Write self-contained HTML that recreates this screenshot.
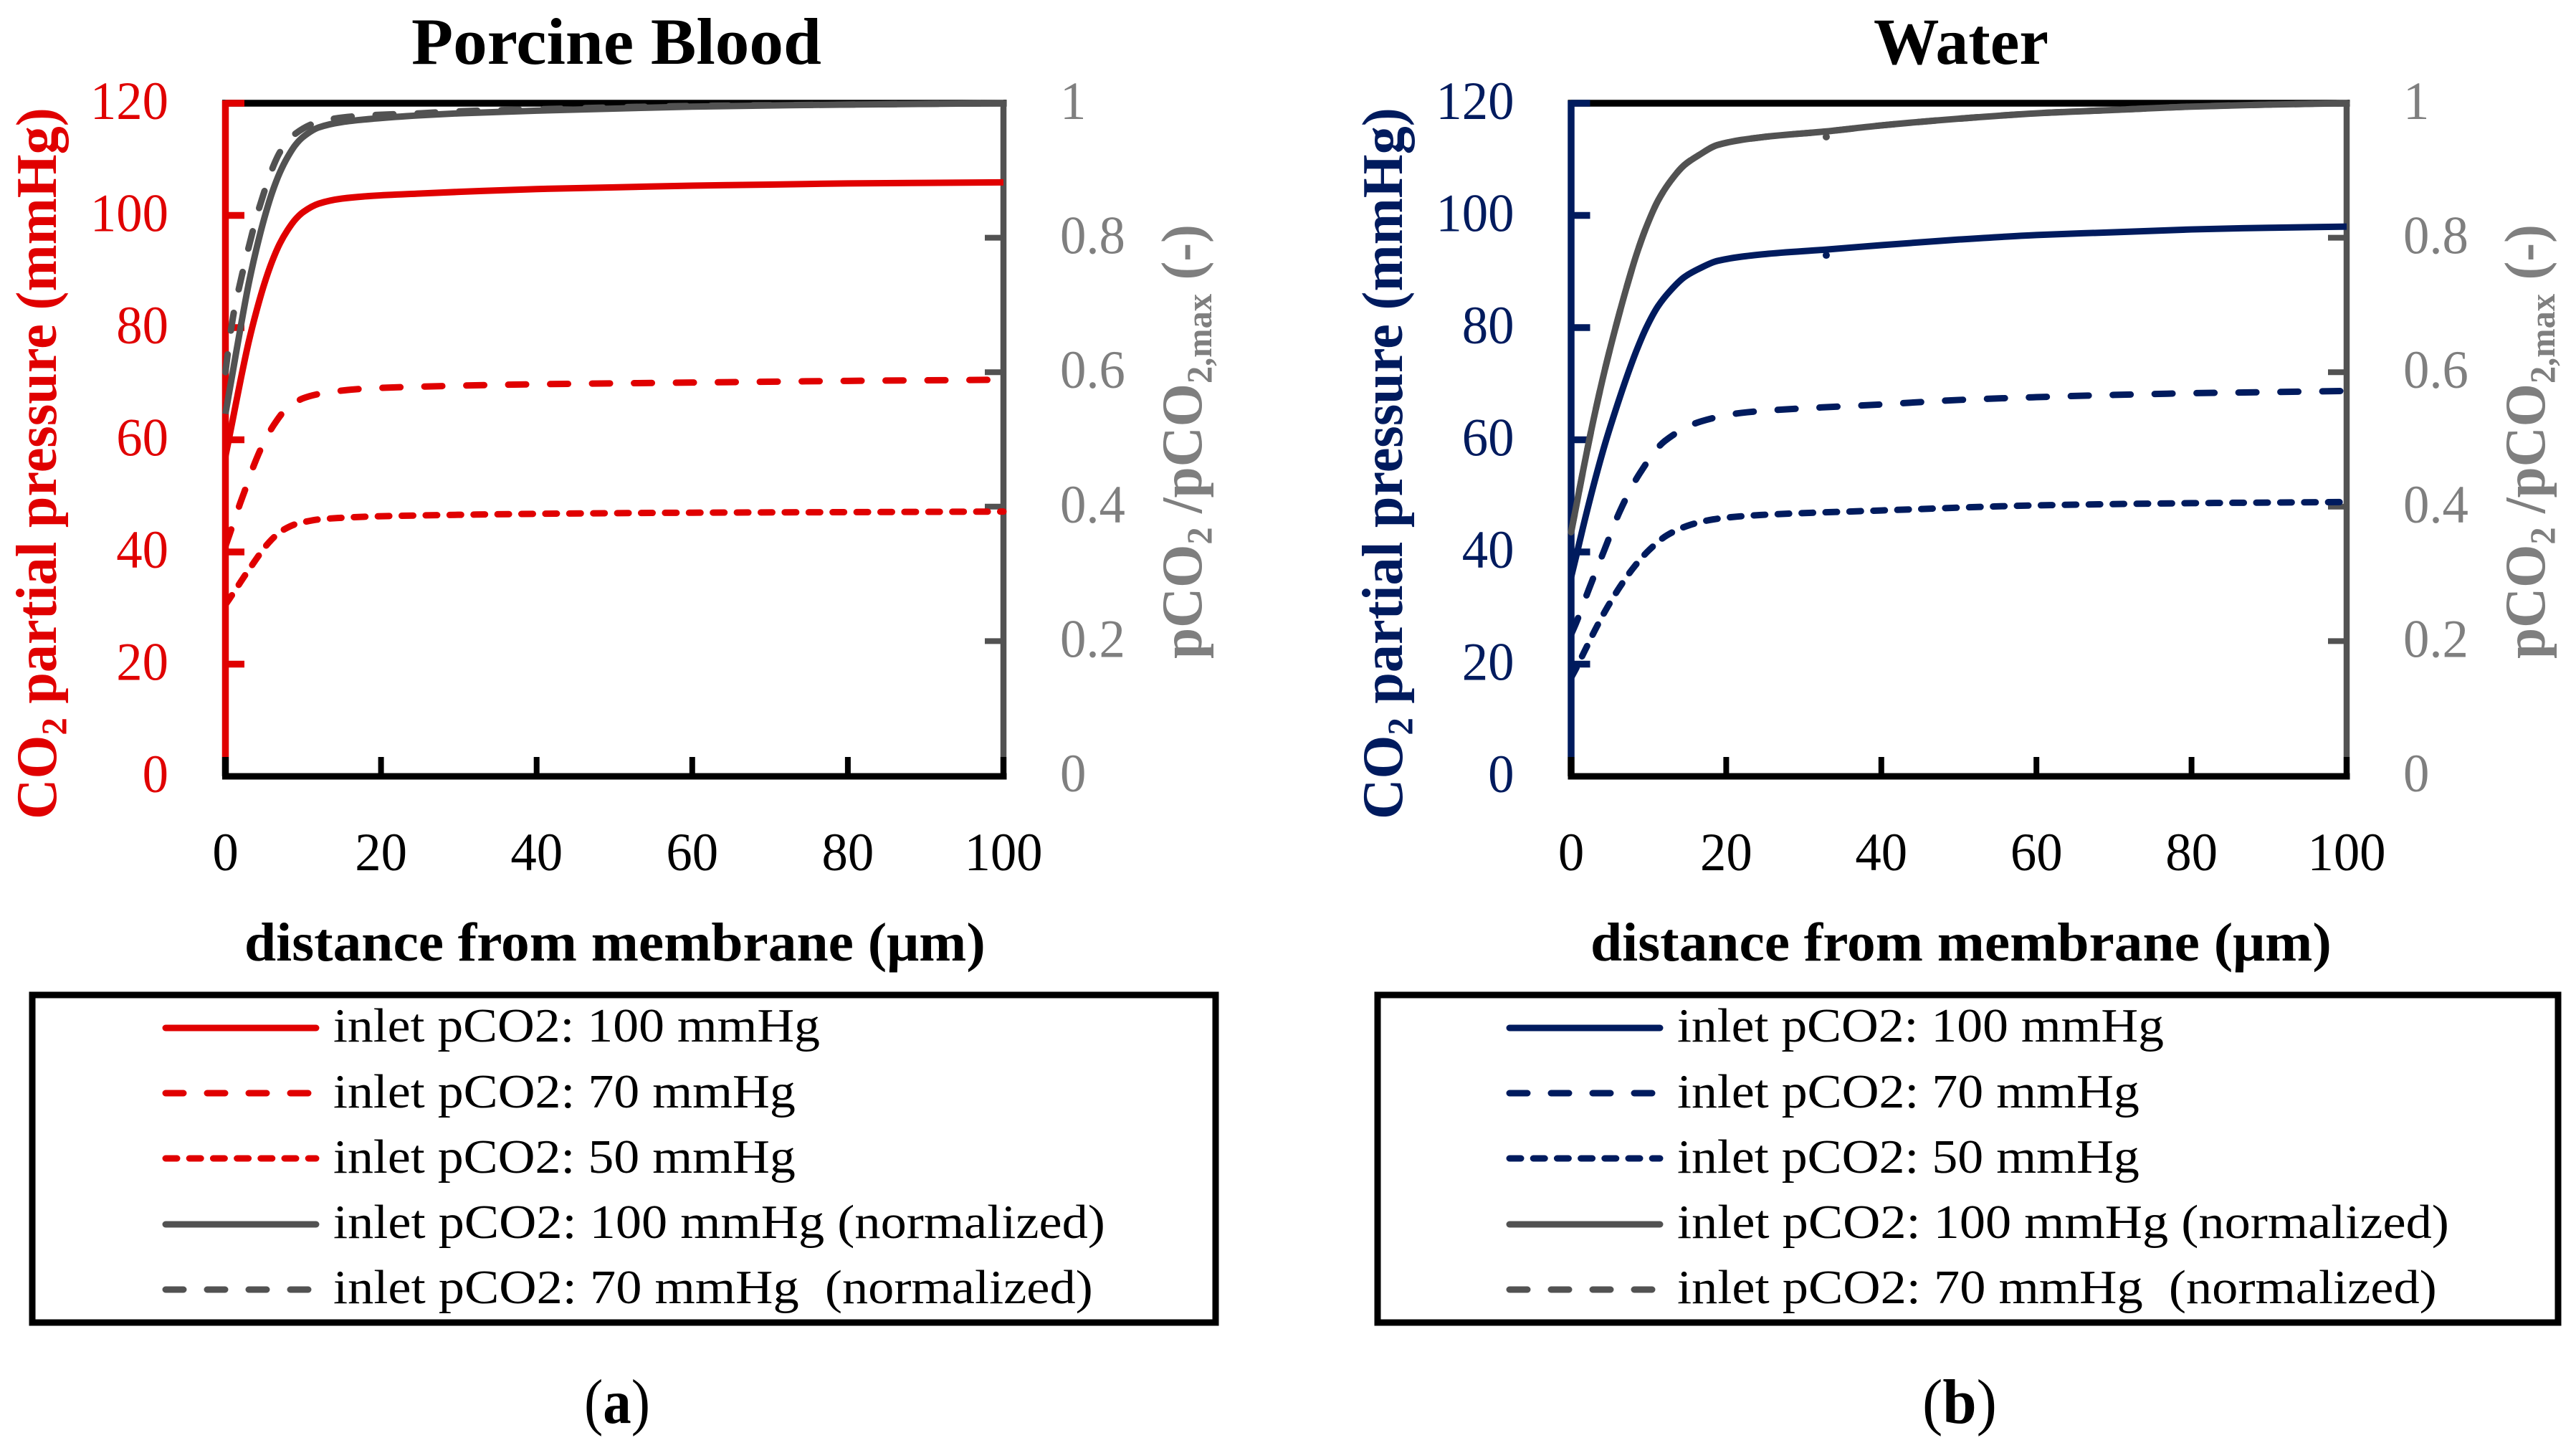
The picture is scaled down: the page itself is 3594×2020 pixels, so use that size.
<!DOCTYPE html>
<html lang="en">
<head>
<meta charset="utf-8">
<title>CO2 partial pressure vs distance from membrane</title>
<style>
html,body{margin:0;padding:0;background:#fff;}
svg{display:block;}
text{font-family:"Liberation Serif",serif;}
</style>
</head>
<body>
<svg xmlns="http://www.w3.org/2000/svg" width="3594" height="2020" viewBox="0 0 3594 2020">
<rect width="3594" height="2020" fill="#fff"/>

<g id="panel-a"></g>
<g id="panel-b"></g>

<text class="fit" data-x="574" data-y="89" data-w="572" font-size="92" font-weight="bold" fill="#000">Porcine Blood</text>
<text class="fit" data-x="2614" data-y="89" data-w="244" font-size="92" font-weight="bold" fill="#000">Water</text>

<text class="fit" data-x="78" data-y="1143" data-r="-90" data-w="993" font-size="80" font-weight="bold" fill="#e00000">CO<tspan font-size="50" dy="14">2</tspan><tspan dy="-14"> partial pressure (mmHg)</tspan></text>
<text class="fit" data-x="1956" data-y="1143" data-r="-90" data-w="993" font-size="80" font-weight="bold" fill="#001b5e">CO<tspan font-size="50" dy="14">2</tspan><tspan dy="-14"> partial pressure (mmHg)</tspan></text>

<text class="fit" data-x="1676" data-y="919" data-r="-90" data-w="606" font-size="80" font-weight="bold" fill="#7f7f7f">pCO<tspan font-size="50" dy="14">2</tspan><tspan dy="-14"> /pCO</tspan><tspan font-size="50" dy="14">2,max</tspan><tspan dy="-14"> (-)</tspan></text>
<text class="fit" data-x="3550" data-y="919" data-r="-90" data-w="606" font-size="80" font-weight="bold" fill="#7f7f7f">pCO<tspan font-size="50" dy="14">2</tspan><tspan dy="-14"> /pCO</tspan><tspan font-size="50" dy="14">2,max</tspan><tspan dy="-14"> (-)</tspan></text>

<text class="fit" data-x="341" data-y="1340" data-w="1034" font-size="76" font-weight="bold" fill="#000">distance from membrane (μm)</text>
<text class="fit" data-x="2219" data-y="1340" data-w="1034" font-size="76" font-weight="bold" fill="#000">distance from membrane (μm)</text>

<!-- Legend A -->
<g>
  <rect x="45" y="1388" width="1651" height="457" fill="none" stroke="#000" stroke-width="9"/>
  <g fill="none" stroke-width="9" stroke-linecap="round">
    <line x1="231" y1="1434" x2="441" y2="1434" stroke="#e00000"/>
    <line x1="231" y1="1525" x2="431" y2="1525" stroke="#e00000" stroke-dasharray="25 33"/>
    <line x1="231" y1="1616" x2="441" y2="1616" stroke="#e00000" stroke-dasharray="16 17.2"/>
    <line x1="231" y1="1708" x2="441" y2="1708" stroke="#525252"/>
    <line x1="231" y1="1799" x2="431" y2="1799" stroke="#525252" stroke-dasharray="25 33"/>
  </g>
  <g font-size="67" fill="#000">
    <text class="fit" data-x="465" data-y="1453" data-w="679">inlet pCO2: 100 mmHg</text>
    <text class="fit" data-x="465" data-y="1545" data-w="645">inlet pCO2: 70 mmHg</text>
    <text class="fit" data-x="465" data-y="1636" data-w="645">inlet pCO2: 50 mmHg</text>
    <text class="fit" data-x="465" data-y="1727" data-w="1077">inlet pCO2: 100 mmHg (normalized)</text>
    <text class="fit" data-x="465" data-y="1818" data-w="1060" xml:space="preserve">inlet pCO2: 70 mmHg  (normalized)</text>
  </g>
</g>

<!-- Legend B -->
<g>
  <rect x="1922" y="1388" width="1647" height="457" fill="none" stroke="#000" stroke-width="9"/>
  <g fill="none" stroke-width="9" stroke-linecap="round">
    <line x1="2106" y1="1434" x2="2316" y2="1434" stroke="#001b5e"/>
    <line x1="2106" y1="1525" x2="2306" y2="1525" stroke="#001b5e" stroke-dasharray="25 33"/>
    <line x1="2106" y1="1616" x2="2316" y2="1616" stroke="#001b5e" stroke-dasharray="16 17.2"/>
    <line x1="2106" y1="1708" x2="2316" y2="1708" stroke="#525252"/>
    <line x1="2106" y1="1799" x2="2306" y2="1799" stroke="#525252" stroke-dasharray="25 33"/>
  </g>
  <g font-size="67" fill="#000">
    <text class="fit" data-x="2340" data-y="1453" data-w="679">inlet pCO2: 100 mmHg</text>
    <text class="fit" data-x="2340" data-y="1545" data-w="645">inlet pCO2: 70 mmHg</text>
    <text class="fit" data-x="2340" data-y="1636" data-w="645">inlet pCO2: 50 mmHg</text>
    <text class="fit" data-x="2340" data-y="1727" data-w="1077">inlet pCO2: 100 mmHg (normalized)</text>
    <text class="fit" data-x="2340" data-y="1818" data-w="1060" xml:space="preserve">inlet pCO2: 70 mmHg  (normalized)</text>
  </g>
</g>

<text class="fit" data-x="815" data-y="1985" data-w="92" font-size="88" fill="#000">(<tspan font-weight="bold">a</tspan>)</text>
<text class="fit" data-x="2682" data-y="1985" data-w="104" font-size="88" fill="#000">(<tspan font-weight="bold">b</tspan>)</text>

<script>
// ---- axis tick labels ----
const xTicks = [0, 20, 40, 60, 80, 100];
const leftTicks = [0, 20, 40, 60, 80, 100, 120];
const rightTicks = [0, 0.2, 0.4, 0.6, 0.8, 1];
const rightTickLabels = ['0', '0.2', '0.4', '0.6', '0.8', '1'];

// ---- Porcine blood: distance (um) and pressure (mmHg) ----
const bloodX100 = [0, 0.5, 1, 2, 3, 4, 5, 6, 7, 8, 9, 10, 12, 15, 19, 25, 30, 40, 50, 60, 70, 80, 90, 100];
const bloodY100 = [57, 60.5, 64, 71, 77.5, 83, 87.8, 91.8, 95, 97.4, 99.3, 100.6, 102.1, 103, 103.5, 103.9, 104.2, 104.7, 105, 105.3, 105.5, 105.7, 105.8, 105.9];
const bloodX70 = [0, 0.5, 1.9, 2.8, 3.7, 4.8, 6.2, 7.7, 10, 12.5, 15.2, 17.8, 23.2, 40, 60, 80, 100];
const bloodY70 = [41, 43, 48.7, 52.1, 55.6, 59.1, 62.6, 65.3, 67.4, 68.3, 68.8, 69.1, 69.4, 69.9, 70.2, 70.5, 70.7];
const bloodX50 = [0, 0.5, 1.6, 2.5, 3.3, 4.3, 5.1, 6.3, 7.4, 9.1, 10.3, 12, 15.1, 18.3, 24.5, 40, 60, 80, 100];
const bloodY50 = [30.6, 31.6, 33.9, 35.8, 37.4, 39.4, 40.9, 42.7, 43.9, 45, 45.4, 45.8, 46.1, 46.3, 46.5, 46.8, 47, 47.1, 47.2];
// normalized (right axis)
const bloodXNorm100 = [0, 0.5, 1, 2, 3, 4, 5, 6, 7, 8, 9, 10, 12, 15, 19, 25, 30, 40, 60, 80, 100];
const bloodYNorm100 = [0.538, 0.571, 0.604, 0.67, 0.732, 0.784, 0.829, 0.867, 0.897, 0.92, 0.938, 0.95, 0.964, 0.972, 0.977, 0.982, 0.985, 0.989, 0.995, 0.998, 1];
const bloodXNorm70 = [0, 0.5, 1.1, 1.9, 2.5, 3.3, 3.9, 4.9, 5.7, 7.1, 8.8, 11.9, 15.2, 18.3, 25, 30, 40, 60, 80, 100];
const bloodYNorm70 = [0.6, 0.645, 0.69, 0.733, 0.763, 0.8, 0.827, 0.865, 0.893, 0.929, 0.953, 0.972, 0.979, 0.982, 0.985, 0.988, 0.991, 0.996, 0.998, 1];

// ---- Water: distance (um) and pressure (mmHg) ----
const waterX100 = [0, 0.7, 1.5, 2.9, 4.4, 6, 7.2, 8.4, 9.7, 11.2, 12.8, 14.6, 16.5, 18.9, 25, 32.8, 40, 50, 60, 70, 80, 90, 100];
const waterY100 = [35.5, 39.5, 44.2, 51.9, 59.4, 66.4, 71.3, 75.8, 80, 83.8, 86.6, 89, 90.5, 91.9, 93.1, 93.9, 94.7, 95.7, 96.5, 97, 97.5, 97.8, 98];
const waterX70 = [0, 0.6, 2.3, 4.3, 6.3, 8.8, 12.1, 16.8, 22, 26.3, 40, 50, 60, 70, 80, 90, 100];
const waterY70 = [25.3, 27.2, 33.4, 40.4, 47.3, 53.9, 59.8, 63.3, 64.8, 65.3, 66.3, 67.1, 67.6, 68, 68.3, 68.5, 68.7];
const waterX50 = [0, 0.4, 1.8, 3.2, 4.7, 6.3, 8.1, 10.1, 12.4, 15.3, 18.3, 21.4, 24.5, 40, 60, 80, 100];
const waterY50 = [17.6, 18.6, 22.5, 26.4, 30.2, 33.8, 37.3, 40.4, 43, 44.8, 45.8, 46.3, 46.6, 47.4, 48.3, 48.7, 48.9];
// normalized (right axis)
const waterXNorm100 = [0, 0.7, 1.5, 2.9, 4.4, 6, 7.2, 8.4, 9.7, 11.2, 12.8, 14.6, 16.5, 18.9, 25, 32.8, 40, 50, 60, 70, 80, 90, 100];
const waterYNorm100 = [0.362, 0.403, 0.451, 0.53, 0.606, 0.678, 0.728, 0.774, 0.816, 0.855, 0.884, 0.908, 0.923, 0.938, 0.95, 0.958, 0.967, 0.977, 0.985, 0.99, 0.995, 0.998, 1];
const waterXNorm70 = [0, 0.7, 1.5, 2.9, 4.4, 6, 7.2, 8.4, 9.7, 11.2, 12.8, 14.6, 16.5, 18.9, 25, 32.8, 40, 50, 60, 70, 80, 90, 100];
const waterYNorm70 = [0.362, 0.403, 0.451, 0.53, 0.606, 0.678, 0.728, 0.774, 0.816, 0.855, 0.884, 0.908, 0.923, 0.938, 0.95, 0.958, 0.967, 0.977, 0.985, 0.99, 0.995, 0.998, 1];
// small stray marks at about 33 um on the water curves
const waterStrayX = [32.9];
const waterStrayLeft = [92.9];
const waterStrayRight = [0.95];

const NS = 'http://www.w3.org/2000/svg';
const RED = '#e00000', NAVY = '#001b5e', GRAY = '#525252', LABEL_GRAY = '#7f7f7f';
const TOP = 144, BOTTOM = 1083;

function add(parent, tag, attrs) {
  const el = document.createElementNS(NS, tag);
  for (const k in attrs) el.setAttribute(k, attrs[k]);
  parent.appendChild(el);
  return el;
}
function yLeft(v) { return BOTTOM - (BOTTOM - TOP) * v / 120; }
function yRight(v) { return BOTTOM - 1 - (BOTTOM - 1 - TOP) * v; }
function makeX(x0, x1) { return v => x0 + (x1 - x0) * v / 100; }

// monotone cubic (PCHIP) path through points
function smoothPath(xs, ys) {
  const n = xs.length, h = [], s = [], m = [];
  for (let i = 0; i < n - 1; i++) {
    h[i] = xs[i + 1] - xs[i];
    s[i] = (ys[i + 1] - ys[i]) / h[i];
  }
  m[0] = s[0];
  m[n - 1] = s[n - 2];
  for (let i = 1; i < n - 1; i++) {
    if (s[i - 1] * s[i] <= 0) { m[i] = 0; continue; }
    const w1 = 2 * h[i] + h[i - 1], w2 = h[i] + 2 * h[i - 1];
    m[i] = (w1 + w2) / (w1 / s[i - 1] + w2 / s[i]);
  }
  let d = 'M' + xs[0].toFixed(2) + ' ' + ys[0].toFixed(2);
  for (let i = 0; i < n - 1; i++) {
    const c1x = xs[i] + h[i] / 3, c1y = ys[i] + m[i] * h[i] / 3;
    const c2x = xs[i + 1] - h[i] / 3, c2y = ys[i + 1] - m[i + 1] * h[i] / 3;
    d += 'C' + c1x.toFixed(2) + ' ' + c1y.toFixed(2) + ' ' + c2x.toFixed(2) + ' ' + c2y.toFixed(2) + ' ' + xs[i + 1].toFixed(2) + ' ' + ys[i + 1].toFixed(2);
  }
  return d;
}

function tickLabel(g, x, y, str, anchor, color, name) {
  const t = add(g, 'text', {
    transform: 'translate(' + x + ' ' + y + ') scale(0.97 1)',
    'text-anchor': anchor, 'font-size': 75, fill: color
  });
  
  
  t.textContent = str;
}

function drawPanel(id, x0, x1, color, series, stray) {
  const g = document.getElementById(id);
  const sx = makeX(x0, x1);
  const tickLeftEnd = x0 + 26.5, tickRightStart = x1 - 26;

  // black frame
  const top = add(g, 'line', { x1: x0 - 4.5, x2: x1 + 4.5, y1: TOP, y2: TOP, stroke: '#000', 'stroke-width': 9.5 });
  
  
  const bottom = add(g, 'line', { x1: x0 - 4.5, x2: x1 + 4.5, y1: BOTTOM, y2: BOTTOM, stroke: '#000', 'stroke-width': 9 });
  
  

  // left axis
  const la = add(g, 'line', { x1: x0, x2: x0, y1: TOP - 4, y2: BOTTOM - 27, stroke: color, 'stroke-width': 9.5 });
  
  
  leftTicks.forEach(v => {
    if (v > 0) {
      const t = add(g, 'line', { x1: x0, x2: tickLeftEnd, y1: yLeft(v), y2: yLeft(v), stroke: color, 'stroke-width': 9.5 });
      
      
    }
    tickLabel(g, x0 - 79.5, yLeft(v) + 22, String(v), 'end', color, 'left-y-tick-label');
  });

  // right axis
  const ra = add(g, 'line', { x1: x1, x2: x1, y1: TOP - 4, y2: BOTTOM - 27, stroke: GRAY, 'stroke-width': 8.5 });
  
  
  rightTicks.forEach((v, i) => {
    if (v > 0) {
      const t = add(g, 'line', { x1: tickRightStart, x2: x1, y1: yRight(v), y2: yRight(v), stroke: GRAY, 'stroke-width': 8 });
      
      
    }
    tickLabel(g, x1 + 79, yRight(v) + 22, rightTickLabels[i], 'start', LABEL_GRAY, 'right-y-tick-label');
  });

  // x ticks
  xTicks.forEach(v => {
    const t = add(g, 'line', { x1: sx(v), x2: sx(v), y1: BOTTOM - 27, y2: BOTTOM, stroke: '#000', 'stroke-width': v === 0 ? 9.5 : (v === 100 ? 8.5 : 8) });
    
    
    tickLabel(g, sx(v), 1214, String(v), 'middle', '#000', 'x-tick-label');
  });

  // series
  series.forEach(s => {
    const xs = s.x.map(sx);
    const ys = s.y.map(s.axis === 'right' ? yRight : yLeft);
    const attrs = { d: smoothPath(xs, ys), fill: 'none', stroke: s.color, 'stroke-width': 9 };
    if (s.dash) {
      attrs['stroke-dasharray'] = s.dash;
      attrs['stroke-linecap'] = 'round';
    }
    const p = add(g, 'path', attrs);
    
    
  });

  // stray marks
  if (stray) {
    stray.x.forEach((v, i) => {
      const c1 = add(g, 'circle', { cx: sx(v), cy: yLeft(stray.left[i]), r: 5, fill: color });
      
      
      const c2 = add(g, 'circle', { cx: sx(v), cy: yRight(stray.right[i]), r: 5, fill: GRAY });
      
      
    });
  }
}

const DASH = '25 33.5', SHORT = '16 17.4';

drawPanel('panel-a', 314.5, 1400, RED, [
  { name: 'line-blood-100', x: bloodX100, y: bloodY100, color: RED, axis: 'left' },
  { name: 'line-blood-70', x: bloodX70, y: bloodY70, color: RED, axis: 'left', dash: DASH },
  { name: 'line-blood-50', x: bloodX50, y: bloodY50, color: RED, axis: 'left', dash: SHORT },
  { name: 'line-blood-70-normalized', x: bloodXNorm70, y: bloodYNorm70, color: GRAY, axis: 'right', dash: DASH },
  { name: 'line-blood-100-normalized', x: bloodXNorm100, y: bloodYNorm100, color: GRAY, axis: 'right' }
], null);

drawPanel('panel-b', 2192, 3274, NAVY, [
  { name: 'line-water-100', x: waterX100, y: waterY100, color: NAVY, axis: 'left' },
  { name: 'line-water-70', x: waterX70, y: waterY70, color: NAVY, axis: 'left', dash: DASH },
  { name: 'line-water-50', x: waterX50, y: waterY50, color: NAVY, axis: 'left', dash: SHORT },
  { name: 'line-water-70-normalized', x: waterXNorm70, y: waterYNorm70, color: GRAY, axis: 'right', dash: DASH },
  { name: 'line-water-100-normalized', x: waterXNorm100, y: waterYNorm100, color: GRAY, axis: 'right' }
], { x: waterStrayX, left: waterStrayLeft, right: waterStrayRight });

// Fit static labels to their measured widths
document.querySelectorAll('text.fit').forEach(el => {
  const w = el.getComputedTextLength();
  const s = parseFloat(el.getAttribute('data-w')) / w;
  const r = el.getAttribute('data-r') || 0;
  el.setAttribute('transform', 'translate(' + el.getAttribute('data-x') + ' ' + el.getAttribute('data-y') + ') rotate(' + r + ') scale(' + s.toFixed(4) + ' 1)');
});
</script>
</svg>
</body>
</html>
